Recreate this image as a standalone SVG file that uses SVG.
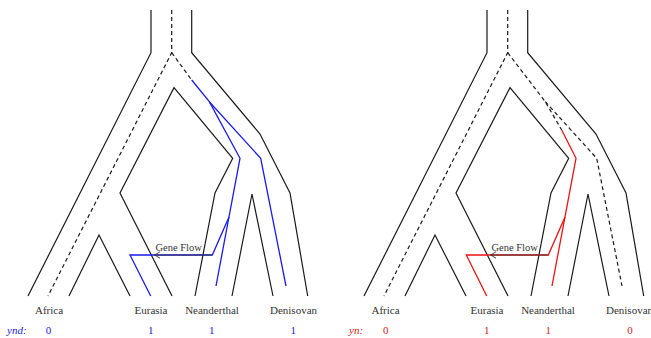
<svg xmlns="http://www.w3.org/2000/svg" width="651" height="338" viewBox="0 0 651 338" font-family="'Liberation Serif', 'DejaVu Serif', serif">
<style>
.k{fill:none;stroke:#1a1a1a;stroke-width:1.2;stroke-linejoin:miter}
.d{fill:none;stroke:#1a1a1a;stroke-width:1.2;stroke-dasharray:4 3}
.b{fill:none;stroke:#1a1aee;stroke-width:1.3}
.r{fill:none;stroke:#ee1111;stroke-width:1.3}
.ar{fill:none;stroke:#333;stroke-width:0.9}
text{font-family:'Liberation Serif','DejaVu Serif',serif;font-size:11px;fill:#333;text-anchor:middle}
.gf{font-size:10.5px;text-anchor:start}
.it{font-style:italic;text-anchor:start}
</style>
<rect width="651" height="338" fill="#fff"/>
<g id="connectors">
<g id="left-tree">
<path class="k" d="M151,10V52.7L28,296"/>
<path class="d" d="M171.7,10V52.7L48,296"/>
<path class="d" d="M171.7,52.7L191.7,80"/>
<path class="k" d="M191.7,10V52.7L260,134L290,193L307.7,296"/>
<path class="k" d="M195,296L215,193L232.7,158.3L174,87.7L120,193L172,296"/>
<path class="k" d="M69,296L99,235L130,296"/>
<path class="k" d="M232,296L252,194L273,296"/>
<path class="b" d="M191.7,80L209.3,101.7L240,158.3L216,286"/>
<path class="b" d="M229,217L212.3,255H130L150.7,296"/>
<path class="b" d="M209.3,101.7L260.7,158.3L286,286"/>
<path class="ar" d="M212,255H154.5M160,251.8L154.5,255L160,258.2"/>
</g>
<g id="right-tree">
<path class="k" d="M487,10V52.7L364,296"/>
<path class="d" d="M507.7,10V52.7L384,296"/>
<path class="d" d="M507.7,52.7L545.3,101.7L561.7,130"/>
<path class="d" d="M545.3,101.7L596.7,158.3L622,286"/>
<path class="k" d="M527.7,10V52.7L596,134L626,193L643.7,296"/>
<path class="k" d="M531,296L551,193L568.7,158.3L510,87.7L456,193L508,296"/>
<path class="k" d="M405,296L435,235L466,296"/>
<path class="k" d="M568,296L588,194L609,296"/>
<path class="r" d="M561.7,130L576,158.3L552,286"/>
<path class="r" d="M565,217L548.3,255H466.3L486.7,296"/>
<path class="ar" d="M548,255H490.5M496,251.8L490.5,255L496,258.2"/>
</g>
</g>
<g id="gene-flow-left"><text class="gf" x="155.5" y="251" font-family="'Liberation Serif', serif">Gene Flow</text></g>
<g id="gene-flow-right"><text class="gf" x="491.5" y="251" font-family="'Liberation Serif', serif">Gene Flow</text></g>
<g id="africa-left"><text x="49" y="314">Africa</text></g>
<g id="eurasia-left"><text x="151" y="314">Eurasia</text></g>
<g id="neanderthal-left"><text x="212" y="314">Neanderthal</text></g>
<g id="denisovan-left"><text x="293.5" y="314">Denisovan</text></g>
<g id="values-left">
<text class="it" x="7" y="334" style="fill:#2222dd">ynd:</text>
<text x="48.5" y="334" style="fill:#2222dd">0</text>
<text x="150.8" y="334" style="fill:#2222dd">1</text>
<text x="211.8" y="334" style="fill:#2222dd">1</text>
<text x="293.2" y="334" style="fill:#2222dd">1</text>
</g>
<g id="africa-right"><text x="385.5" y="314">Africa</text></g>
<g id="eurasia-right"><text x="487" y="314">Eurasia</text></g>
<g id="neanderthal-right"><text x="548" y="314">Neanderthal</text></g>
<g id="denisovan-right"><text x="629.5" y="314">Denisovan</text></g>
<g id="values-right">
<text class="it" x="349" y="334" style="fill:#dd2222">yn:</text>
<text x="385.7" y="334" style="fill:#dd2222">0</text>
<text x="486.7" y="334" style="fill:#dd2222">1</text>
<text x="548.3" y="334" style="fill:#dd2222">1</text>
<text x="630" y="334" style="fill:#dd2222">0</text>
</g>
</svg>
